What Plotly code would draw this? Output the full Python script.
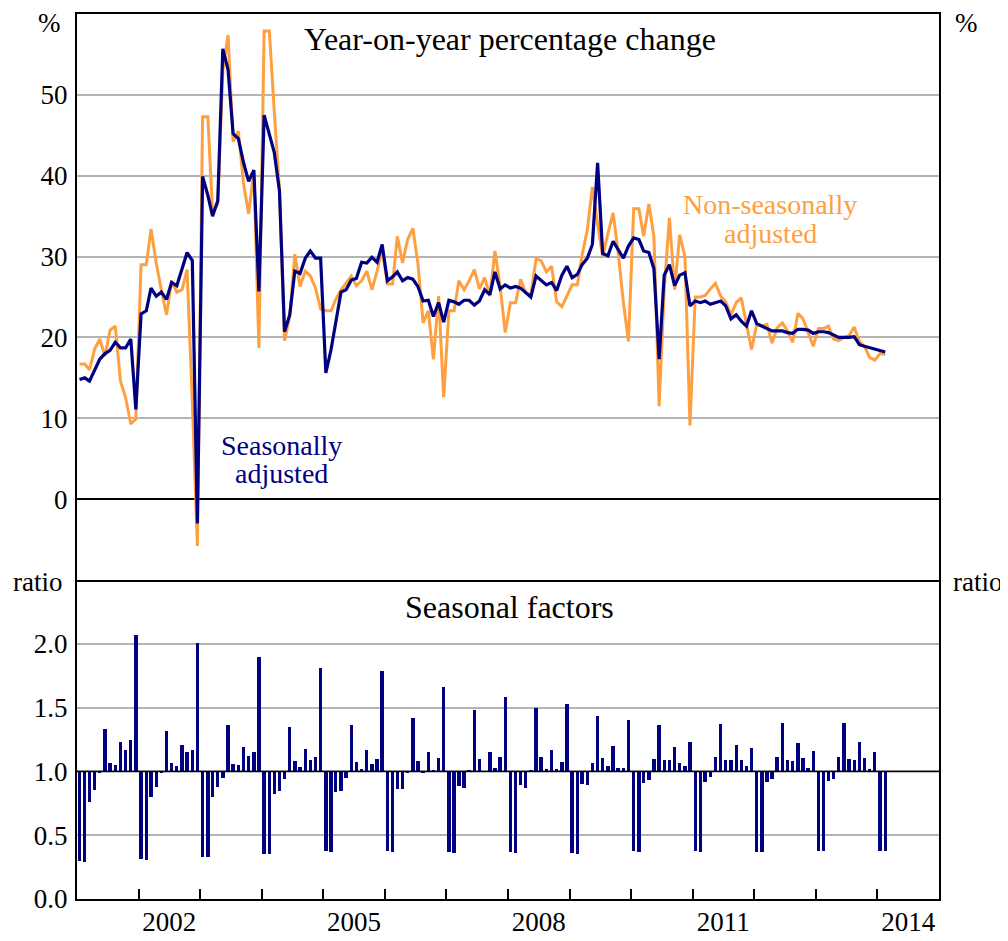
import plotly.graph_objects as go
import pandas as pd

# ---------------- data ----------------
start_month = "2001-01-01"

sa_yoy = [
    14.8, 15.0, 14.6, 16.0, 17.3, 18.0, 18.4, 19.4, 18.7, 18.7, 19.8, 11.1,   # 2001
    22.9, 23.3, 26.1, 25.1, 25.6, 24.7, 26.8, 26.4, 28.4, 30.5, 29.5, -3.0,   # 2002
    39.9, 37.6, 35.0, 36.9, 55.7, 53.1, 45.2, 44.6, 41.6, 39.3, 40.7, 25.7,   # 2003
    47.5, 45.0, 42.9, 38.1, 20.7, 22.8, 28.2, 27.9, 29.8, 30.7, 29.8, 29.8,   # 2004
    15.6, 18.5, 21.7, 25.6, 25.9, 27.1, 27.3, 29.3, 29.2, 29.9, 29.3, 31.5,   # 2005
    27.0, 27.5, 28.1, 27.0, 27.4, 27.2, 26.3, 24.5, 24.6, 22.6, 24.3, 21.9,   # 2006
    24.6, 24.4, 24.1, 24.6, 24.6, 24.0, 24.5, 25.9, 25.3, 28.1, 26.0, 26.5,   # 2007
    26.1, 26.3, 26.1, 25.5, 25.0, 27.6, 27.1, 26.5, 26.8, 25.8, 27.7, 28.8,   # 2008
    27.4, 27.8, 29.0, 29.8, 31.5, 41.6, 30.4, 30.1, 31.9, 30.9, 29.8, 31.3,   # 2009
    32.3, 32.1, 30.7, 30.5, 28.5, 17.3, 27.7, 29.0, 26.4, 27.7, 28.0, 23.9,   # 2010
    24.5, 24.3, 24.5, 24.1, 24.3, 24.5, 23.9, 22.3, 22.8, 22.0, 21.4, 23.3,   # 2011
    21.7, 21.4, 21.1, 20.8, 20.8, 20.8, 20.6, 20.5, 21.0, 21.0, 20.9, 20.5,   # 2012
    20.7, 20.7, 20.6, 20.3, 20.0, 20.0, 20.0, 20.1, 19.1, 18.9, 18.7, 18.5,   # 2013
    18.4, 18.2,                                                               # 2014
]

nsa_yoy = [
    16.7, 16.7, 16.0, 18.6, 19.8, 17.7, 20.9, 21.4, 14.6, 12.6, 9.3, 9.9,     # 2001
    29.0, 29.0, 33.4, 29.2, 25.9, 22.8, 27.0, 25.6, 25.9, 28.4, 12.0, -5.8,   # 2002
    47.3, 47.3, 35.5, 36.5, 53.0, 57.4, 44.2, 45.5, 39.0, 35.3, 40.5, 18.7,   # 2003
    57.9, 57.9, 48.0, 38.2, 19.6, 22.6, 30.3, 26.3, 28.2, 27.6, 26.1, 23.5,   # 2004
    23.3, 23.3, 24.7, 25.9, 26.7, 27.6, 26.4, 27.0, 28.2, 25.9, 28.2, 30.9,   # 2005
    26.6, 26.6, 32.5, 29.2, 32.1, 33.5, 29.2, 21.8, 23.3, 17.3, 25.1, 12.6,   # 2006
    23.3, 23.3, 27.0, 25.9, 27.0, 28.4, 26.0, 27.4, 25.1, 30.7, 26.3, 20.6,   # 2007
    24.3, 24.3, 27.2, 25.5, 25.3, 29.7, 29.5, 28.1, 28.8, 24.4, 23.8, 25.1,   # 2008
    26.5, 26.5, 30.2, 33.3, 38.6, 34.0, 30.0, 32.8, 35.4, 30.5, 24.3, 19.5,   # 2009
    35.9, 35.9, 32.5, 36.5, 32.5, 11.5, 25.9, 34.8, 25.9, 32.7, 30.0, 9.1,    # 2010
    25.0, 25.0, 25.2, 26.0, 26.7, 25.1, 24.4, 22.8, 24.3, 24.9, 21.8, 18.5,   # 2011
    21.6, 21.4, 21.6, 19.3, 21.2, 21.8, 20.8, 19.4, 23.0, 22.3, 20.6, 18.9,   # 2012
    21.1, 21.1, 21.4, 19.8, 19.6, 20.0, 20.2, 21.3, 19.5, 18.9, 17.5, 17.2,   # 2013
    18.0, 17.9,                                                               # 2014
]

seasonal_factors = [
    0.297, 0.290, 0.760, 0.856, 0.985, 1.336, 1.068, 1.050, 1.234, 1.170, 1.250, 2.070,  # 2001
    0.312, 0.307, 0.800, 0.880, 0.985, 1.320, 1.068, 1.045, 1.210, 1.155, 1.170, 2.010,  # 2002
    0.330, 0.330, 0.800, 0.880, 0.950, 1.360, 1.060, 1.050, 1.190, 1.120, 1.150, 1.900,  # 2003
    0.350, 0.350, 0.820, 0.850, 0.940, 1.350, 1.080, 1.037, 1.176, 1.090, 1.115, 1.810,  # 2004
    0.375, 0.370, 0.835, 0.850, 0.950, 1.360, 1.076, 1.020, 1.165, 1.058, 1.100, 1.790,  # 2005
    0.375, 0.370, 0.864, 0.860, 0.985, 1.420, 1.084, 0.990, 1.155, 1.010, 1.107, 1.660,  # 2006
    0.370, 0.360, 0.885, 0.870, 1.005, 1.480, 1.094, 1.000, 1.155, 1.030, 1.110, 1.580,  # 2007
    0.365, 0.357, 0.890, 0.870, 1.010, 1.500, 1.115, 1.015, 1.170, 1.020, 1.076, 1.530,  # 2008
    0.360, 0.355, 0.900, 0.895, 1.068, 1.436, 1.107, 1.040, 1.200, 1.026, 1.026, 1.400,  # 2009
    0.373, 0.367, 0.913, 0.934, 1.100, 1.360, 1.087, 1.087, 1.195, 1.068, 1.040, 1.230,  # 2010
    0.373, 0.367, 0.920, 0.953, 1.115, 1.370, 1.090, 1.090, 1.210, 1.090, 1.040, 1.180,  # 2011
    0.370, 0.370, 0.920, 0.940, 1.115, 1.380, 1.090, 1.080, 1.225, 1.107, 1.030, 1.163,  # 2012
    0.373, 0.373, 0.926, 0.937, 1.115, 1.380, 1.097, 1.090, 1.233, 1.107, 1.020, 1.150,  # 2013
    0.373, 0.373,                                                                        # 2014
]

yoy_ticks = [0, 10, 20, 30, 40, 50]
ratio_ticks = [0.0, 0.5, 1.0, 1.5, 2.0]
ratio_tick_text = ["0.0", "0.5", "1.0", "1.5", "2.0"]
year_labels = ["2002", "2005", "2008", "2011", "2014"]
year_ticks = list(range(2002, 2015))

# ---------------- styling ----------------
NAVY = "#000080"
ORANGE = "#FFA040"
GRID = "#b4b4b4"
FONT = "Times New Roman"
OFF = 8                      # page body margin in the browser
W, H = 1000, 933
PL, PR, PT, PB = 77, 939, 14, 899   # plot-area edges in page pixels
ML, MR, MT, MB = PL - OFF, W - (PR - OFF), PT - OFF, H - (PB - OFF)
SPLIT_PX = 580                       # page pixel row separating the panels

months = pd.date_range(start_month, periods=len(sa_yoy), freq="MS") + pd.Timedelta(days=15)
x_range = ["2001-01-01", "2015-01-01"]


def py(pix):
    return (PB - pix) / (PB - PT)


def px(pix):
    return (pix - PL) / (PR - PL)


split = py(SPLIT_PX)

fig = go.Figure()
fig.add_trace(go.Scatter(x=months, y=nsa_yoy, mode="lines", name="Non-seasonally adjusted",
                         line=dict(color=ORANGE, width=3), xaxis="x", yaxis="y"))
fig.add_trace(go.Scatter(x=months, y=sa_yoy, mode="lines", name="Seasonally adjusted",
                         line=dict(color=NAVY, width=3.2), xaxis="x", yaxis="y"))
fig.add_trace(go.Bar(x=months, y=[f - 1.0 for f in seasonal_factors], base=1.0,
                     name="Seasonal factors", marker=dict(color=NAVY, line=dict(width=0)),
                     width=20 * 86400000, xaxis="x2", yaxis="y2"))

TICKFONT = dict(family=FONT, size=27, color="black")
line_style = dict(showline=True, linecolor="black", linewidth=2, tickfont=TICKFONT)

fig.update_layout(
    width=W, height=H,
    margin=dict(l=ML, r=MR, t=MT, b=MB, autoexpand=False),
    paper_bgcolor="white", plot_bgcolor="white",
    showlegend=False,
    font=dict(family=FONT, color="black"),
    xaxis=dict(domain=[0, 1], anchor="y", range=x_range, type="date", mirror=True,
               showticklabels=False, ticks="", showgrid=False, **line_style),
    yaxis=dict(domain=[split, 1], anchor="x", range=[-10, 60], tickmode="array",
               tickvals=yoy_ticks, ticktext=[str(v) for v in yoy_ticks], ticks="",
               showgrid=True, gridcolor=GRID, gridwidth=1.5, mirror=True,
               zeroline=True, zerolinecolor="black", zerolinewidth=1.5,
               ticklabelstandoff=2, **line_style),
    yaxis3=dict(overlaying="y", anchor="x", side="right", range=[-10, 60], tickmode="array",
                tickvals=yoy_ticks, ticktext=[str(v) for v in yoy_ticks], ticks="",
                showgrid=False, zeroline=False, showline=False, ticklabelstandoff=13,
                tickfont=TICKFONT),
    xaxis2=dict(domain=[0, 1], anchor="y2", range=x_range, type="date", tickmode="array",
                tickvals=[f"{y}-07-02" for y in year_labels], ticktext=year_labels,
                ticks="", showgrid=False, ticklabelstandoff=-2, mirror=False,
                minor=dict(tickmode="array", tickvals=[f"{y}-01-01" for y in year_ticks],
                           ticks="inside", ticklen=10, tickwidth=2, tickcolor="black",
                           showgrid=False),
                **line_style),
    yaxis2=dict(domain=[0, split], anchor="x2", range=[0, 2.5], tickmode="array",
                tickvals=ratio_ticks, ticktext=ratio_tick_text, ticks="",
                showgrid=True, gridcolor=GRID, gridwidth=1.5, zeroline=False, mirror=True,
                ticklabelstandoff=2, **line_style),
    yaxis4=dict(overlaying="y2", anchor="x2", side="right", range=[0, 2.5], tickmode="array",
                tickvals=ratio_ticks, ticktext=ratio_tick_text, ticks="",
                showgrid=False, zeroline=False, showline=False, ticklabelstandoff=13,
                tickfont=TICKFONT),
    bargap=0,
)

# reference line at ratio 1.0
fig.add_shape(type="line", xref="x2 domain", yref="y2", x0=0, x1=1, y0=1.0, y1=1.0,
              line=dict(color="black", width=1.5), layer="above")


def label(text, xp, yp, size, color="black", xanchor="center"):
    fig.add_annotation(text=text, xref="paper", yref="paper", x=px(xp), y=py(yp),
                       xanchor=xanchor, yanchor="middle", showarrow=False,
                       font=dict(family=FONT, size=size, color=color))


label("Year-on-year percentage change", 510, 39, 32)
label("Seasonal factors", 510, 607, 32)
label("Seasonally", 281, 446, 28, NAVY)
label("adjusted", 281, 473, 28, NAVY)
label("Non-seasonally", 770, 205, 28, ORANGE)
label("adjusted", 770, 233, 28, ORANGE)
label("%", 63, 23, 27, xanchor="right")
label("%", 953, 23, 27, xanchor="left")
label("ratio", 64, 582, 27, xanchor="right")
label("ratio", 951, 582, 27, xanchor="left")

fig.write_html("out.html")
